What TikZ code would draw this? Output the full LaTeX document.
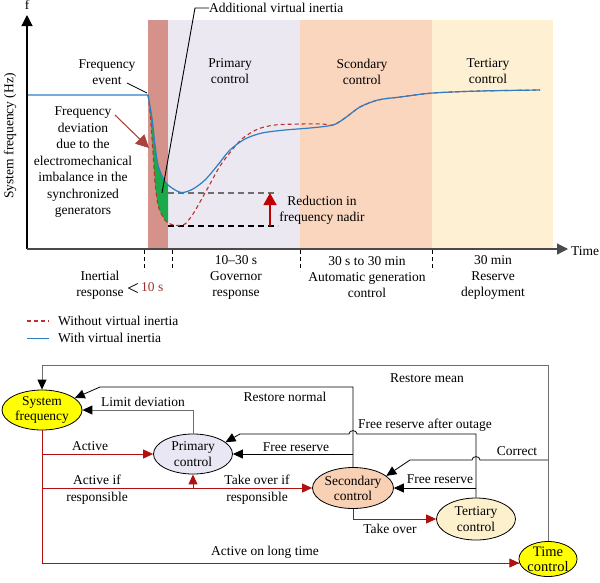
\documentclass[tikz,border=0pt]{standalone}
\usepackage{fontspec}
\setmainfont{Liberation Serif}
\usetikzlibrary{shapes.geometric,arrows.meta}
\definecolor{bandI}{HTML}{D4928A}
\definecolor{bandP}{HTML}{ECE8F2}
\definecolor{bandS}{HTML}{FAD6BE}
\definecolor{bandT}{HTML}{FEF1D3}
\definecolor{cblue}{HTML}{2F7EC1}
\definecolor{cred}{HTML}{C0302F}
\definecolor{devred}{HTML}{A8443D}
\definecolor{nadred}{HTML}{C00000}
\definecolor{cgreen}{HTML}{1BAA4A}
\definecolor{lnred}{HTML}{B01010}
\definecolor{lngrey}{HTML}{6E6E6E}
\definecolor{axgrey}{HTML}{4A4A4A}
\definecolor{fillY}{HTML}{FFFF00}
\definecolor{fillP}{HTML}{E9E7F3}
\definecolor{fillS}{HTML}{F8D0B4}
\definecolor{fillT}{HTML}{FDF0CC}
\definecolor{tenred}{HTML}{A0302A}
\begin{document}
\begin{tikzpicture}[x=1pt,y=-1pt,
  font=\fontsize{13.5}{16}\selectfont,
  lbl/.style={inner sep=0pt,align=center},
  ell/.style={ellipse,draw=black,line width=0.8pt,inner sep=0pt,align=center},
  axline/.style={draw=axgrey,line width=1.2pt},
  axtip/.style={-{Triangle[length=11pt,width=11pt]}},
  tickline/.style={draw=black,line width=0.7pt,dash pattern=on 4pt off 3pt},
  bluec/.style={draw=cblue,line width=1.2pt},
  redc/.style={draw=cred,line width=1.1pt,dash pattern=on 4pt off 3pt},
  blkl/.style={draw=black,line width=0.8pt,-{Triangle[length=10pt,width=9pt]}},
  greyl/.style={draw=lngrey,line width=0.9pt,-{Triangle[length=10pt,width=9pt,color=black]}},
  redl/.style={draw=lnred,line width=0.9pt},
  redtip/.style={-{Triangle[length=10pt,width=9pt]}}]
\useasboundingbox (0,0) rectangle (600,582);
% ---------- bands ----------
\fill[bandI] (148,20) rectangle (168,249);
\fill[bandP] (168,20) rectangle (300,249);
\fill[bandS] (300,20) rectangle (432,249);
\fill[bandT] (432,20) rectangle (553,249);
% ---------- green area ----------
\begin{scope}
\clip (148,0) rectangle (168,250);
\clip plot[smooth] coordinates {(148,95) (152,118) (155,145) (158,165) (163,178) (168,185) (177,191) (183,192.5) (193,189) (205,180) (217,166) (230,150) (245,139) (262,133) (285,130) (310,128) (333,125) (345,118) (360,107) (378,100) (400,97) (433,93) (480,91) (540,90)} -- (540,250) -- (148,250) -- cycle;
\fill[cgreen] plot[smooth] coordinates {(148,95) (150,112) (153,152) (155,182) (158,205) (163,217) (168,223) (177,225.5) (185,224) (193,214) (200,202) (210,184) (220,166) (232,150) (243,138) (258,129) (275,125) (300,124) (322,124) (333,125) (345,118) (360,107) (378,100) (400,97) (433,93) (480,91) (540,90)} -- (540,0) -- (148,0) -- cycle;
\end{scope}
% ---------- nadir lines ----------
\draw[draw=lngrey,line width=1.1pt,dash pattern=on 6pt off 4pt] (168,193) -- (278,193);
\draw[draw=black,line width=1.1pt,dash pattern=on 6pt off 4pt] (168,226) -- (278,226);
\coordinate (nadlow) at (270,226);
\coordinate (nadhigh) at (270,193);
\draw[draw=nadred,line width=1.3pt,-{Triangle[length=12pt,width=13pt]}] (nadlow) -- (nadhigh);
% ---------- curves ----------
\draw[redc] plot[smooth] coordinates {(148,95) (150,112) (153,152) (155,182) (158,205) (163,217) (168,223) (177,225.5) (185,224) (193,214) (200,202) (210,184) (220,166) (232,150) (243,138) (258,129) (275,125) (300,124) (322,124) (333,125) (345,118) (360,107) (378,100) (400,97) (433,93) (480,91) (540,90)};
\draw[bluec] (27,95) -- plot[smooth] coordinates {(148,95) (152,118) (155,145) (158,165) (163,178) (168,185) (177,191) (183,192.5) (193,189) (205,180) (217,166) (230,150) (245,139) (262,133) (285,130) (310,128) (333,125) (345,118) (360,107) (378,100) (400,97) (433,93) (480,91) (540,90)};
% ---------- axes ----------
\coordinate (org) at (27,249);
\coordinate (ytop) at (27,15);
\coordinate (xend) at (568,249);
\draw[axline,draw=black,axtip] (org) -- (ytop);
\draw[axline,axtip] (org) -- (xend);
\node[lbl] (flab) at (27,5) {f};
\node[lbl,anchor=west] (tlab) at (571,251) {Time};
\node[lbl,rotate=90] (ylab) at (10,136) {System frequency (Hz)};
% ticks
\foreach \tx/\tn in {144/ta,172/tb,300/tcc,432/td}{
  \coordinate (\tn1) at (\tx,250);
  \coordinate (\tn2) at (\tx,271);
  \draw[tickline] (\tn1) -- (\tn2);
}
% ---------- texts in graph ----------
\node[lbl] (pclab) at (230,71.5) {Primary\\control};
\node[lbl] (sclab) at (362,71.5) {Scondary\\control};
\node[lbl] (tclab) at (488,71.5) {Tertiary\\control};
\node[lbl] (fev) at (107,72) {Frequency\\event};
\coordinate (fevp) at (147,93);
\draw[black,line width=0.7pt] (127,83) -- (fevp);
\node[lbl,font=\fontsize{13.5}{16.5}\selectfont] (fdev) at (83,162.5) {Frequency\\deviation\\due to the\\electromechanical\\imbalance in the\\synchronized\\generators};
\coordinate (devs) at (115,115);
\coordinate (deve) at (149,148);
\draw[draw=devred,line width=1.1pt,-{Triangle[length=13pt,width=13pt]}] (devs) -- (deve);
\node[lbl,anchor=west] (avi) at (209,8) {Additional virtual inertia};
\coordinate (avik) at (195,8);
\coordinate (avie) at (162,193);
\draw[black,line width=0.9pt] (avi.west) -- (avik) -- (avie);
\node[lbl] (red) at (322,210) {Reduction in\\frequency nadir};
% ---------- below axis ----------
\node[lbl] (ir) at (100,285) {Inertial\\response};
\node[lbl,font=\fontsize{21}{21}\selectfont] (lt) at (133,289) {<};
\node[lbl,text=tenred,anchor=west] (ten) at (141,287) {10 s};
\node[lbl] (gov) at (236,277) {10–30 s\\Governor\\response};
\node[lbl] (agc) at (367,277) {30 s to 30 min\\Automatic generation\\control};
\node[lbl] (rdep) at (493,277) {30 min\\Reserve\\deployment};
% legend
\coordinate (l1a) at (27,321); \coordinate (l1b) at (49,321);
\coordinate (l2a) at (27,338); \coordinate (l2b) at (49,338);
\draw[redc] (l1a) -- (l1b);
\draw[bluec,line width=1pt] (l2a) -- (l2b);
\node[lbl,anchor=west] (lg1) at (58,321) {Without virtual inertia};
\node[lbl,anchor=west] (lg2) at (58,338) {With virtual inertia};
% ---------- bottom diagram ----------
\node[ell,fill=fillY,minimum width=80pt,minimum height=40pt,font=\fontsize{13.5}{14.5}\selectfont] (sf) at (42,410) {System\\frequency};
\node[ell,fill=fillP,minimum width=79pt,minimum height=40pt] (pc) at (193,454) {Primary\\control};
\node[ell,fill=fillS,minimum width=81pt,minimum height=41pt,font=\fontsize{13.5}{15}\selectfont] (scn) at (353,488) {Secondary\\control};
\node[ell,fill=fillT,minimum width=79pt,minimum height=42pt] (tc) at (476,519) {Tertiary\\control};
\node[ell,fill=fillY,minimum width=54pt,minimum height=34pt,font=\fontsize{14.5}{15}\selectfont] (tm) at (548,559) {Time\\control};
% coordinates
\coordinate (rmk) at (548,365);
\coordinate (rnk) at (100,387);
\coordinate (cj) at (548,460);
% grey
\draw[greyl] (tm.north) -- (rmk) -| (sf.north);
\draw[greyl] (pc.north) |- (sf.east);
% black
\draw[blkl] (scn.north) -- (scn.north |- rnk) -- (rnk) -- (sf.20);
\draw[blkl] (scn.north |- pc.east) -- (pc.east);
\draw[blkl] (tc.north) -- (476,434) -- (357,434) .. controls (357,429.5) and (349,429.5) .. (349,434) -- (240,434) -- (pc.20);
\draw[blkl] (cj) -- (480,460) .. controls (480,455.5) and (472,455.5) .. (472,460) -- (410,460) -- (scn.20);
\draw[blkl] (tc.north |- scn.east) -- (scn.east);
% red
\draw[redl] (sf.south) |- (tm.188);
\draw[redl,redtip] (sf.south |- pc.west) -- (pc.west);
\draw[redl,redtip] (sf.south |- scn.west) -- (scn.west);
\draw[redl,redtip] (pc.south |- scn.west) -- (pc.south);
\draw[redl,redtip] (scn.south) |- (tc.west);
\draw[redl,redtip] ([xshift=-20pt]tm.188) -- (tm.188);
% labels
\node[lbl] (t1) at (427,378) {Restore mean};
\node[lbl] (t2) at (285,397) {Restore normal};
\node[lbl] (t3) at (143,402) {Limit deviation};
\node[lbl] (t4) at (296,447) {Free reserve};
\node[lbl] (t5) at (425,425) {Free reserve after outage};
\node[lbl] (t6) at (517,451) {Correct};
\node[lbl] (t7) at (440,479) {Free reserve};
\node[lbl] (t8) at (90,446) {Active};
\node[lbl,font=\fontsize{13.5}{17}\selectfont] (t9) at (97,489.5) {Active if\\responsible};
\node[lbl,font=\fontsize{13.5}{17}\selectfont] (t10) at (257,489.5) {Take over if\\responsible};
\node[lbl] (t11) at (390,529) {Take over};
\node[lbl] (t12) at (265,552) {Active on long time};
\end{tikzpicture}
\end{document}
